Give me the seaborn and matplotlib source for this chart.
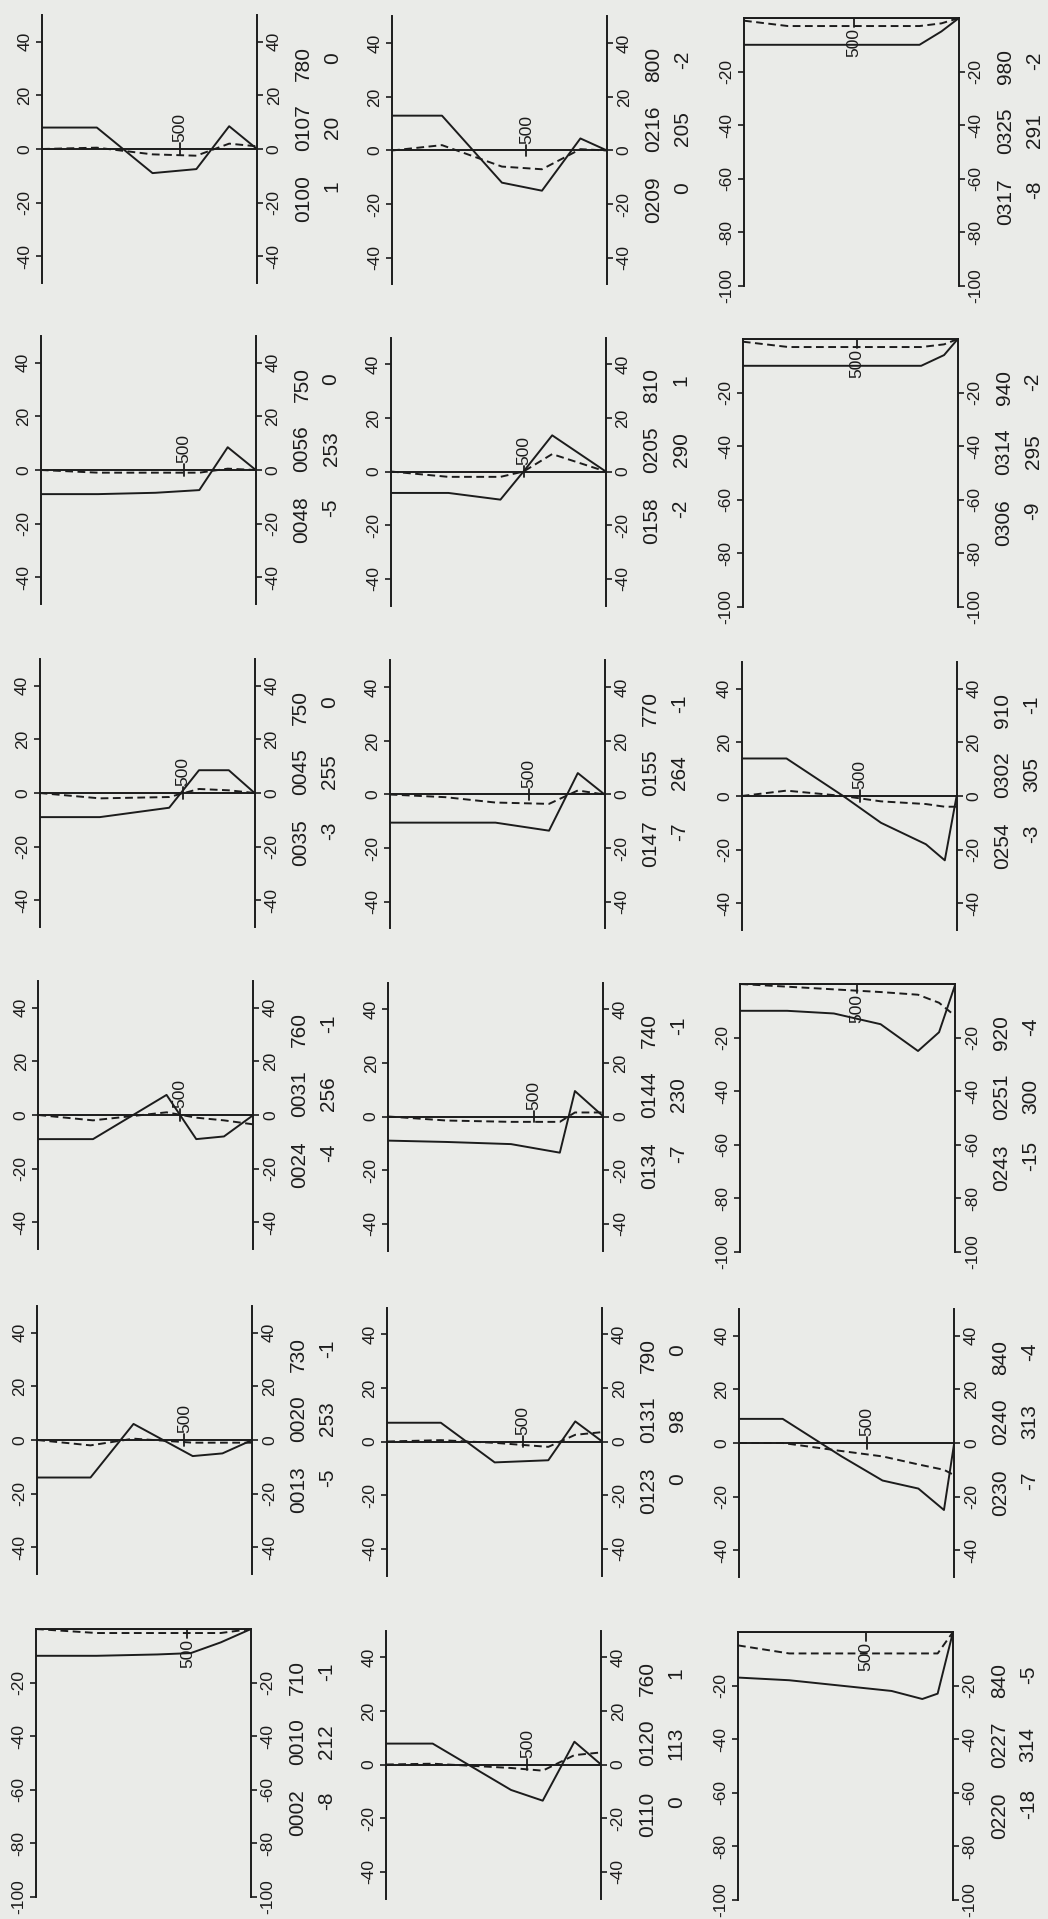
import matplotlib
matplotlib.use("Agg")
import matplotlib.pyplot as plt
import numpy as np
import pandas as pd
import seaborn as sns

sns.set_style("white")
plt.rcParams['font.family'] = ['Liberation Sans Narrow', 'Liberation Sans', 'DejaVu Sans']

# panels listed column by column (left column first), top row first
station_a = ["0100", "0048", "0035", "0024", "0013", "0002",
             "0209", "0158", "0147", "0134", "0123", "0110",
             "0317", "0306", "0254", "0243", "0230", "0220"]
station_b = ["0107", "0056", "0045", "0031", "0020", "0010",
             "0216", "0205", "0155", "0144", "0131", "0120",
             "0325", "0314", "0302", "0251", "0240", "0227"]
max_depth = [780, 750, 750, 760, 730, 710,
             800, 810, 770, 740, 790, 760,
             980, 940, 910, 920, 840, 840]
info_a = ["1", "-5", "-3", "-4", "-5", "-8",
          "0", "-2", "-7", "-7", "0", "0",
          "-8", "-9", "-3", "-15", "-7", "-18"]
info_b = ["20", "253", "255", "256", "253", "212",
          "205", "290", "264", "230", "98", "113",
          "291", "295", "305", "300", "313", "314"]
info_c = ["0", "0", "0", "-1", "-1", "-1",
          "-2", "1", "-1", "-1", "0", "1",
          "-2", "-2", "-1", "-4", "-4", "-5"]
# "sym" = axis -50..50, "neg" = axis -100..0
axis_kind = ["sym", "sym", "sym", "sym", "sym", "neg",
             "sym", "sym", "sym", "sym", "sym", "sym",
             "neg", "neg", "sym", "neg", "sym", "neg"]

depths = [
    [0, 199, 401, 560, 679, 780],
    [0, 200, 400, 553, 652, 750],
    [0, 210, 452, 556, 660, 750],
    [0, 193, 453, 558, 656, 760],
    [0, 181, 327, 528, 629, 730],
    [0, 200, 400, 511, 610, 710],
    [0, 186, 409, 558, 701, 800],
    [0, 217, 413, 500, 608, 810],
    [0, 200, 379, 571, 674, 770],
    [0, 200, 422, 590, 642, 740],
    [0, 197, 395, 592, 691, 790],
    [0, 165, 442, 554, 666, 760],
    [0, 200, 400, 600, 800, 900, 980],
    [0, 200, 400, 600, 780, 880, 940],
    [0, 190, 430, 590, 780, 860, 910],
    [0, 200, 400, 600, 760, 850, 920],
    [0, 170, 400, 560, 700, 800, 840],
    [0, 200, 400, 600, 720, 780, 840],
]
solid = [
    [8, 8, -9, -7.5, 8.5, 0],
    [-9, -9, -8.5, -7.5, 8.5, 0],
    [-9, -9, -5.5, 8.5, 8.5, 0],
    [-9, -9, 7.5, -9, -8, 0],
    [-14, -14, 6, -6, -5, 0],
    [-10, -10, -9.5, -9, -5, 0],
    [13, 13, -12, -15, 4.5, 0],
    [-8, -8, -10.5, 0, 13.5, 0],
    [-10.5, -10.5, -10.5, -13.5, 8, 0],
    [-9, -9.5, -10.3, -13.5, 9.5, 0],
    [7, 7, -7.8, -7, 7.5, 0],
    [7.8, 7.8, -9.5, -13.5, 8.5, 0],
    [-10, -10, -10, -10, -10, -5, 0],
    [-10, -10, -10, -10, -10, -6, 0],
    [14, 14, 0, -10, -18, -24, 0],
    [-10, -10, -11, -15, -25, -18, 0],
    [9, 9, -5, -14, -17, -25, 0],
    [-17, -18, -20, -22, -25, -23, 0],
]
dashed = [
    [0, 0.5, -2, -2.5, 2, 1],
    [0, -1, -1, -1, 0.5, 0],
    [0, -2, -1.5, 1.5, 1, 0],
    [0, -2, 1, -1, -2, -3.5],
    [0, -2, 0.5, -1, -1, -1],
    [0, -1.5, -1.5, -1.5, -1.5, 0],
    [0, 2, -6, -7, 0.5, 0],
    [0, -2, -2, 0, 6.5, 0],
    [0, -1, -3, -3.5, 1.5, 0],
    [0, -1.5, -2, -2, 1.5, 1.5],
    [0, 0.5, -0.5, -2, 2.5, 3.5],
    [0, 0.3, -1.3, -2.3, 3.5, 4.5],
    [-1, -3, -3, -3, -3, -2, 0],
    [-1, -3, -3, -3, -3, -2, 0],
    [0, 2, 0, -2, -3, -4, -4],
    [0, -1, -2, -3, -4, -7, -12],
    [0, 0, -3, -5, -8, -10, -12],
    [-5, -8, -8, -8, -8, -8, 0],
]
mark_depth = 500

W, H = 1048, 1919
col_left = [42, 392, 744]
row_top = [15, 336, 659, 981, 1306, 1629]
ax_w, ax_h = 215, 268
ink = "#1c1c1c"
paper = "#eaebe8"

fig = plt.figure(figsize=(W / 100, H / 100), dpi=100, facecolor=paper)

for i in range(18):
    c, r = divmod(i, 6)
    left = col_left[c] - 1.2 * r
    top = row_top[r] + 1.5 * c
    ax = fig.add_axes([left / W, 1 - (top + ax_h) / H, ax_w / W, ax_h / H])
    ax.set_facecolor("none")

    df = pd.DataFrame({"depth": depths[i], "solid": solid[i], "dashed": dashed[i]})
    sns.lineplot(data=df, x="depth", y="solid", ax=ax, color=ink, lw=1.4,
                 estimator=None, sort=False)
    sns.lineplot(data=df, x="depth", y="dashed", ax=ax, color=ink, lw=1.4,
                 estimator=None, sort=False, linestyle=(0, (4, 2.3)))

    D = max_depth[i]
    ax.set_xlim(0, D)
    ax.axhline(0, color=ink, lw=1.4)
    if axis_kind[i] == "sym":
        ax.set_ylim(-50, 50)
        ticks = [-40, -20, 0, 20, 40]
        ax.plot([mark_depth, mark_depth], [-2.2, 2.2], color=ink, lw=1.3)
        ax.text(mark_depth, 2.6, "500", rotation=90, ha="center", va="bottom",
                fontsize=12.5, color=ink)
        for s in ["top", "bottom"]:
            ax.spines[s].set_visible(False)
    else:
        ax.set_ylim(-100, 0)
        ticks = [-100, -80, -60, -40, -20]
        ax.plot([mark_depth, mark_depth], [0, -3.5], color=ink, lw=1.3)
        ax.text(mark_depth, -3.7, "500", rotation=90, ha="center", va="top",
                fontsize=12.5, color=ink)
        ax.spines["bottom"].set_visible(False)
        ax.spines["top"].set_visible(True)
    for s in ["left", "right", "top"]:
        ax.spines[s].set_color(ink)
        ax.spines[s].set_linewidth(1.4)

    ax.set_xticks([])
    ax.set_yticks(ticks)
    ax.set_yticklabels([str(t) for t in ticks])
    ax.tick_params(axis="y", left=True, right=True, labelleft=True, labelright=True,
                   direction="out", length=4, width=1.2, pad=3, colors=ink,
                   labelsize=12.5, labelrotation=90)
    for lab in ax.get_yticklabels():
        lab.set_verticalalignment("center")
    ax.set_xlabel("")
    ax.set_ylabel("")

    # station information printed beside the right axis
    fx1, fx2 = 1.215, 1.35
    ax.text(fx1, 0.315, station_a[i], transform=ax.transAxes, rotation=90,
            ha="center", va="center", fontsize=15, color=ink)
    ax.text(fx1, 0.58, station_b[i], transform=ax.transAxes, rotation=90,
            ha="center", va="center", fontsize=15, color=ink)
    ax.text(fx1, 0.82, str(D), transform=ax.transAxes, rotation=90,
            ha="center", va="center", fontsize=15, color=ink)
    ax.text(fx2, 0.36, info_a[i], transform=ax.transAxes, rotation=90,
            ha="center", va="center", fontsize=15, color=ink)
    ax.text(fx2, 0.58, info_b[i], transform=ax.transAxes, rotation=90,
            ha="center", va="center", fontsize=15, color=ink)
    ax.text(fx2, 0.84, info_c[i], transform=ax.transAxes, rotation=90,
            ha="center", va="center", fontsize=15, color=ink)

fig.savefig("out.png", dpi=100, facecolor=paper)
